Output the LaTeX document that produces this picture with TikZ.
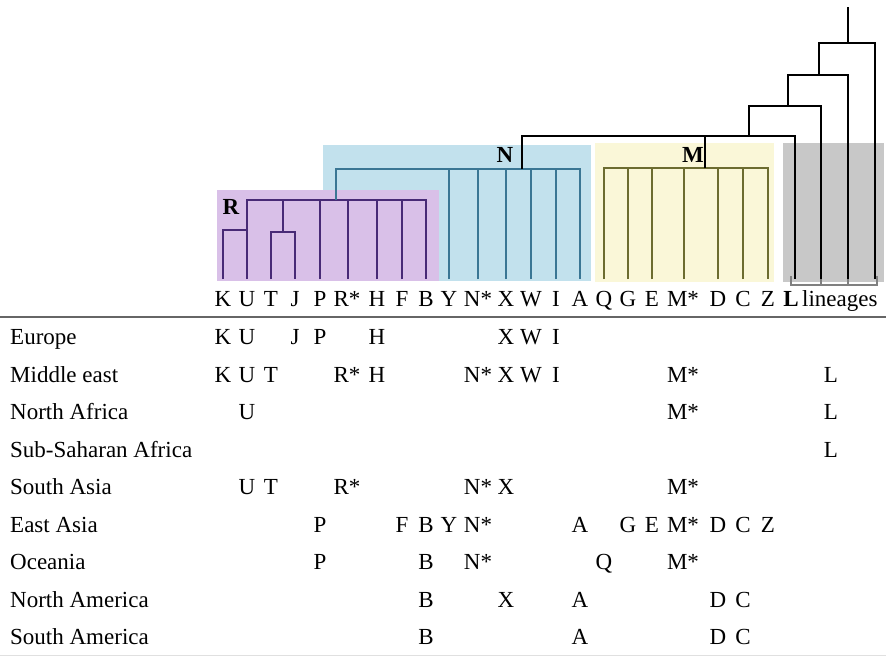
\documentclass[tikz,border=0pt]{standalone}
\usepackage{fontspec}
\setmainfont{Liberation Serif}
\definecolor{rfill}{RGB}{217,192,232}
\definecolor{rline}{RGB}{72,42,118}
\definecolor{nfill}{RGB}{194,225,237}
\definecolor{nline}{RGB}{58,118,148}
\definecolor{mfill}{RGB}{250,247,216}
\definecolor{mline}{RGB}{108,108,48}
\definecolor{lfill}{RGB}{200,200,200}
\begin{document}
\begin{tikzpicture}[x=1pt,y=-1pt,
  tree/.style={line width=2pt},
  rtree/.style={tree,draw=rline},
  ntree/.style={tree,draw=nline},
  mtree/.style={tree,draw=mline},
  ktree/.style={tree,draw=black},
  lbl/.style={anchor=base,inner sep=0pt,font=\fontsize{23}{27}\selectfont},
  rowname/.style={anchor=base west,inner sep=0pt,font=\fontsize{23}{27}\selectfont},
  clade/.style={inner sep=0pt,font=\fontsize{23}{27}\selectfont\bfseries}]
\useasboundingbox (0,0) rectangle (886,656);
\fill[white] (0,0) rectangle (886,656);
% boxes
\fill[nfill] (323,145) rectangle (591,281);
\fill[rfill] (217,190) rectangle (439,281);
\fill[mfill] (595,143) rectangle (774,282);
\fill[lfill] (783,143) rectangle (884,282);
% leaf tops / junctions
\foreach \nm/\xx in {K/223,U/247,T/271,J/295,P/320,Rs/348,H/377,F/402,B/426,
  Y/449,Ns/478,X/506,W/531,I/556,A/580,Q/604,G/628,E/652,Ms/684,D/718,C/743,Z/768,
  La/795,Lb/821,Lc/848,Ld/875}
  \coordinate (leaf\nm) at (\xx,279);
% R clade
\coordinate (ku) at (223,230); \coordinate (ku2) at (247,230);
\coordinate (tj1) at (271,232); \coordinate (tj2) at (295,232); \coordinate (tjm) at (283,232);
\coordinate (rl) at (247,200); \coordinate (rr) at (426,200); \coordinate (tjtop) at (283,200);
\draw[rtree] (leafK) -- (ku) -- (ku2);
\draw[rtree] (leafU) -- (rl) -- (rr) -- (leafB);
\draw[rtree] (leafT) -- (tj1) -- (tj2) -- (leafJ);
\draw[rtree] (tjm) -- (tjtop);
\foreach \nm in {P,Rs,H,F} \draw[rtree] (leaf\nm) -- (leaf\nm |- rl);
% N clade
\coordinate (rstem) at (336,200); \coordinate (nl) at (336,169); \coordinate (nr) at (580,169);
\draw[ntree] (rstem) -- (nl) -- (nr) -- (leafA);
\foreach \nm in {Y,Ns,X,W,I} \draw[ntree] (leaf\nm) -- (leaf\nm |- nl);
\coordinate (nstem) at (522,169); \coordinate (ntop) at (522,136);
% M clade
\coordinate (ml) at (604,168); \coordinate (mr) at (768,168);
\draw[mtree] (leafQ) -- (ml) -- (mr) -- (leafZ);
\foreach \nm in {G,E,Ms,D,C} \draw[mtree] (leaf\nm) -- (leaf\nm |- ml);
\coordinate (mstem) at (705,168); \coordinate (mtop) at (705,136);
% upper tree
\coordinate (h1r) at (795,136);
\coordinate (s2) at (749,136); \coordinate (s2t) at (749,106); \coordinate (h2r) at (821,106);
\coordinate (s3) at (788,106); \coordinate (s3t) at (788,75); \coordinate (h3r) at (848,75);
\coordinate (s4) at (819,75); \coordinate (s4t) at (819,43); \coordinate (h4r) at (875,43);
\coordinate (s5) at (848,43); \coordinate (root) at (848,7);
\draw[ktree] (nstem) -- (ntop) -- (h1r) -- (leafLa);
\draw[ktree] (mstem) -- (mtop);
\draw[ktree] (s2) -- (s2t) -- (h2r) -- (leafLb);
\draw[ktree] (s3) -- (s3t) -- (h3r) -- (leafLc);
\draw[ktree] (s4) -- (s4t) -- (h4r) -- (leafLd);
\draw[ktree] (s5) -- (root);
% bracket
\coordinate (bl) at (791,276); \coordinate (blb) at (791,285);
\coordinate (br) at (877,276); \coordinate (brb) at (877,285);
\draw[gray,line width=1.1pt] (bl) -- (blb) -- (brb) -- (br);
\draw[gray,line width=1.1pt] (821,279) -- (821,285) (848,279) -- (848,285);
% clade labels
\node[clade] (labR) at (231,207) {R};
\node[clade] (labN) at (505,155) {N};
\node[clade] (labM) at (693,155) {M};
% header labels
\foreach \lab/\nm/\xx in {K/K/223,U/U/247,T/T/271,J/J/295,P/P/320,R*/Rs/347,H/H/377,F/F/402,B/B/426,
  Y/Y/449,N*/Ns/478,X/X/506,W/W/531,I/I/556,A/A/580,Q/Q/604,G/G/628,E/E/652,M*/Ms/683,D/D/718,C/C/743,Z/Z/768}
  \node[lbl] (hd\nm) at (\xx,306.5) {\lab};
\node[lbl,font=\fontsize{23}{27}\selectfont\bfseries] (hdL) at (791,306.5) {L};
\node[rowname] (hdlin) at (802,306.5) {lineages};
% rules
\draw[black!60,line width=2pt] (0,316.5) -- (886,316.5);
\draw[black!12,line width=1pt] (0,655.5) -- (886,655.5);
% table
\node[rowname] (r1) at (10,344.5) {Europe};
\node[rowname] (r2) at (10,382) {Middle east};
\node[rowname] (r3) at (10,419.5) {North Africa};
\node[rowname] (r4) at (10,457) {Sub-Saharan Africa};
\node[rowname] (r5) at (10,494.5) {South Asia};
\node[rowname] (r6) at (10,532) {East Asia};
\node[rowname] (r7) at (10,569.5) {Oceania};
\node[rowname] (r8) at (10,607) {North America};
\node[rowname] (r9) at (10,644.5) {South America};
\foreach \lab/\nm/\xx in {K/K/223,U/U/247,J/J/295,P/P/320,H/H/377,X/X/506,W/W/531,I/I/556}
  \node[lbl] (a\nm) at (\xx,344.5) {\lab};
\foreach \lab/\nm/\xx in {K/K/223,U/U/247,T/T/271,R*/Rs/347,H/H/377,N*/Ns/478,X/X/506,W/W/531,I/I/556,M*/Ms/683,L/L/831}
  \node[lbl] (b\nm) at (\xx,382) {\lab};
\foreach \lab/\nm/\xx in {U/U/247,M*/Ms/683,L/L/831}
  \node[lbl] (c\nm) at (\xx,419.5) {\lab};
\node[lbl] (dL) at (831,457) {L};
\foreach \lab/\nm/\xx in {U/U/247,T/T/271,R*/Rs/347,N*/Ns/478,X/X/506,M*/Ms/683}
  \node[lbl] (e\nm) at (\xx,494.5) {\lab};
\foreach \lab/\nm/\xx in {P/P/320,F/F/402,B/B/426,Y/Y/449,N*/Ns/478,A/A/580,G/G/628,E/E/652,M*/Ms/683,D/D/718,C/C/743,Z/Z/768}
  \node[lbl] (f\nm) at (\xx,532) {\lab};
\foreach \lab/\nm/\xx in {P/P/320,B/B/426,N*/Ns/478,Q/Q/604,M*/Ms/683}
  \node[lbl] (g\nm) at (\xx,569.5) {\lab};
\foreach \lab/\nm/\xx in {B/B/426,X/X/506,A/A/580,D/D/718,C/C/743}
  \node[lbl] (h\nm) at (\xx,607) {\lab};
\foreach \lab/\nm/\xx in {B/B/426,A/A/580,D/D/718,C/C/743}
  \node[lbl] (i\nm) at (\xx,644.5) {\lab};
\end{tikzpicture}
\end{document}
